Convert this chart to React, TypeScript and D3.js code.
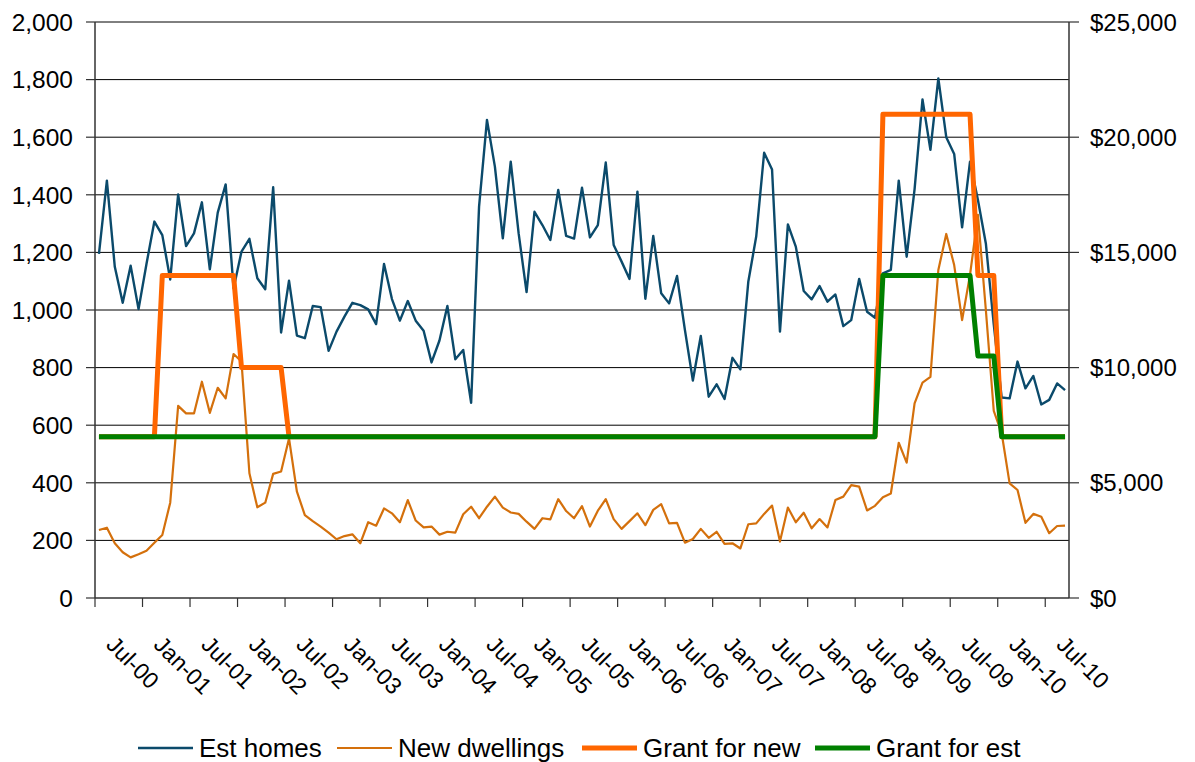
import { useRef, useEffect } from "react";
import * as d3 from "d3";

// monthly, Jul-00 .. Sep-10 (123 months)
const estHomes: number[] = [
    1195, 1449, 1150, 1025, 1154, 1003, 1160, 1307, 1260, 1106, 1401, 1222,
    1266, 1374, 1141, 1338, 1436, 1075, 1203, 1247, 1110, 1072, 1426, 922,
    1102, 911, 902, 1014, 1010, 858, 925, 977, 1025, 1017, 1002, 951,
    1160, 1038, 963, 1031, 963, 928, 818, 894, 1014, 829, 861, 678,
    1359, 1660, 1498, 1249, 1515, 1266, 1062, 1341, 1295, 1243, 1417, 1257,
    1248, 1425, 1252, 1295, 1512, 1226, 1168, 1108, 1411, 1039, 1257, 1058,
    1023, 1118, 930, 755, 910, 699, 742, 691, 834, 794, 1098, 1255,
    1546, 1488, 925, 1297, 1220, 1066, 1037, 1083, 1029, 1054, 944, 965,
    1108, 994, 973, 1127, 1139, 1449, 1185, 1420, 1731, 1556, 1804, 1600,
    1542, 1287, 1515, 1382, 1231, 950, 696, 693, 821, 728, 771, 672,
    688, 745, 722,
];

const newDwellings: number[] = [
    236, 244, 190, 159, 141, 152, 164, 192, 219, 331, 667, 641,
    641, 751, 643, 730, 693, 847, 821, 433, 315, 331, 431, 439,
    554, 369, 288, 267, 248, 227, 204, 215, 221, 190, 263, 251,
    311, 294, 263, 340, 269, 245, 248, 220, 230, 227, 291, 317,
    277, 317, 352, 314, 297, 292, 265, 240, 277, 273, 343, 302,
    277, 319, 248, 303, 343, 274, 240, 267, 294, 253, 306, 326,
    259, 261, 192, 205, 240, 209, 230, 188, 190, 172, 256, 259,
    292, 321, 196, 314, 263, 296, 242, 274, 245, 340, 352, 392,
    387, 304, 320, 350, 363, 539, 470, 676, 748, 768, 1139, 1264,
    1156, 965, 1122, 1330, 1000, 650, 572, 398, 375, 261, 292, 282,
    225, 250, 251,
];

const grantNew: number[] = [
    7000, 7000, 7000, 7000, 7000, 7000, 7000, 7000, 14000, 14000, 14000, 14000,
    14000, 14000, 14000, 14000, 14000, 14000, 10000, 10000, 10000, 10000, 10000, 10000,
    7000, 7000, 7000, 7000, 7000, 7000, 7000, 7000, 7000, 7000, 7000, 7000,
    7000, 7000, 7000, 7000, 7000, 7000, 7000, 7000, 7000, 7000, 7000, 7000,
    7000, 7000, 7000, 7000, 7000, 7000, 7000, 7000, 7000, 7000, 7000, 7000,
    7000, 7000, 7000, 7000, 7000, 7000, 7000, 7000, 7000, 7000, 7000, 7000,
    7000, 7000, 7000, 7000, 7000, 7000, 7000, 7000, 7000, 7000, 7000, 7000,
    7000, 7000, 7000, 7000, 7000, 7000, 7000, 7000, 7000, 7000, 7000, 7000,
    7000, 7000, 7000, 21000, 21000, 21000, 21000, 21000, 21000, 21000, 21000, 21000,
    21000, 21000, 21000, 14000, 14000, 14000, 7000, 7000, 7000, 7000, 7000, 7000,
    7000, 7000, 7000,
];

const grantEst: number[] = [
    7000, 7000, 7000, 7000, 7000, 7000, 7000, 7000, 7000, 7000, 7000, 7000,
    7000, 7000, 7000, 7000, 7000, 7000, 7000, 7000, 7000, 7000, 7000, 7000,
    7000, 7000, 7000, 7000, 7000, 7000, 7000, 7000, 7000, 7000, 7000, 7000,
    7000, 7000, 7000, 7000, 7000, 7000, 7000, 7000, 7000, 7000, 7000, 7000,
    7000, 7000, 7000, 7000, 7000, 7000, 7000, 7000, 7000, 7000, 7000, 7000,
    7000, 7000, 7000, 7000, 7000, 7000, 7000, 7000, 7000, 7000, 7000, 7000,
    7000, 7000, 7000, 7000, 7000, 7000, 7000, 7000, 7000, 7000, 7000, 7000,
    7000, 7000, 7000, 7000, 7000, 7000, 7000, 7000, 7000, 7000, 7000, 7000,
    7000, 7000, 7000, 14000, 14000, 14000, 14000, 14000, 14000, 14000, 14000, 14000,
    14000, 14000, 14000, 10500, 10500, 10500, 7000, 7000, 7000, 7000, 7000, 7000,
    7000, 7000, 7000,
];

const tickLabels = [
    "Jul-00", "Jan-01", "Jul-01", "Jan-02", "Jul-02", "Jan-03", "Jul-03",
    "Jan-04", "Jul-04", "Jan-05", "Jul-05", "Jan-06", "Jul-06", "Jan-07",
    "Jul-07", "Jan-08", "Jul-08", "Jan-09", "Jul-09", "Jan-10", "Jul-10",
];

const leftTicks = [0, 200, 400, 600, 800, 1000, 1200, 1400, 1600, 1800, 2000];
const rightTicks = [0, 5000, 10000, 15000, 20000, 25000];

const seriesNames = ["Est homes", "New dwellings", "Grant for new", "Grant for est"];
const seriesColors = ["#0b4a6b", "#d4700c", "#ff6600", "#008000"];
const seriesWidths = [2.4, 2.2, 5, 5];

const FONT = "'Liberation Sans', Arial, sans-serif";

const GrantChart = () => {
    const svgRef = useRef<SVGSVGElement>(null);

    useEffect(() => {
        if (!svgRef.current) return;
        const svg = d3.select(svgRef.current);
        svg.selectAll("*").remove();

        const width = 1195;
        const height = 762;
        const plot = { left: 95, right: 1069, top: 22, bottom: 598 };

        const months = d3.timeMonth.range(new Date(2000, 6, 1), new Date(2010, 9, 1));
        const fmt = d3.timeFormat("%b-%y");
        const cats = months.map((m) => fmt(m));

        const x = d3.scaleBand<string>().domain(cats).range([plot.left, plot.right]).padding(0);
        const cx = (i: number) => (x(cats[i]) || 0) + x.bandwidth() / 2;
        const y = d3.scaleLinear().domain([0, 2000]).range([plot.bottom, plot.top]);
        const y2 = d3.scaleLinear().domain([0, 25000]).range([plot.bottom, plot.top]);

        svg.attr("width", width).attr("height", height).attr("viewBox", [0, 0, width, height]);

        // gridlines
        svg.append("g")
            .selectAll("line")
            .data(leftTicks.slice(1))
            .enter()
            .append("line")
            .attr("x1", plot.left)
            .attr("x2", plot.right)
            .attr("y1", (d) => y(d))
            .attr("y2", (d) => y(d))
            .attr("stroke", "#000")
            .attr("stroke-width", 1);

        const lineLeft = d3.line<number>().x((_, i) => cx(i)).y((d) => y(d));
        const lineRight = d3.line<number>().x((_, i) => cx(i)).y((d) => y2(d));

        const series: [number[], d3.Line<number>][] = [
            [estHomes, lineLeft],
            [newDwellings, lineLeft],
            [grantNew, lineRight],
            [grantEst, lineRight],
        ];
        series.forEach(([vals, gen], k) => {
            svg.append("path")
                .datum(vals)
                .attr("d", gen)
                .attr("fill", "none")
                .attr("stroke", seriesColors[k])
                .attr("stroke-width", seriesWidths[k])
                .attr("stroke-linejoin", "round");
        });

        // axes
        const axisColor = "#333";
        const leftAxis = svg.append("g");
        leftAxis.append("line")
            .attr("x1", plot.left).attr("x2", plot.left)
            .attr("y1", plot.top).attr("y2", plot.bottom)
            .attr("stroke", axisColor).attr("stroke-width", 1.5);
        leftAxis.selectAll("line.tick")
            .data(leftTicks)
            .enter()
            .append("line")
            .attr("class", "tick")
            .attr("x1", plot.left - 9).attr("x2", plot.left)
            .attr("y1", (d) => y(d)).attr("y2", (d) => y(d))
            .attr("stroke", axisColor).attr("stroke-width", 1.2);
        leftAxis.selectAll("text")
            .data(leftTicks)
            .enter()
            .append("text")
            .attr("x", 73)
            .attr("y", (d) => y(d))
            .attr("dy", "0.36em")
            .attr("text-anchor", "end")
            .attr("font-family", FONT)
            .attr("font-size", 24.5)
            .text((d) => d3.format(",")(d));

        const rightAxis = svg.append("g");
        rightAxis.append("line")
            .attr("x1", plot.right).attr("x2", plot.right)
            .attr("y1", plot.top).attr("y2", plot.bottom)
            .attr("stroke", axisColor).attr("stroke-width", 1.5);
        rightAxis.selectAll("line.tick")
            .data(rightTicks)
            .enter()
            .append("line")
            .attr("class", "tick")
            .attr("x1", plot.right).attr("x2", plot.right + 10)
            .attr("y1", (d) => y2(d)).attr("y2", (d) => y2(d))
            .attr("stroke", axisColor).attr("stroke-width", 1.2);
        rightAxis.selectAll("text")
            .data(rightTicks)
            .enter()
            .append("text")
            .attr("x", 1090)
            .attr("y", (d) => y2(d))
            .attr("dy", "0.36em")
            .attr("font-family", FONT)
            .attr("font-size", 24)
            .text((d) => "$" + d3.format(",")(d));

        const bottomAxis = svg.append("g");
        bottomAxis.append("line")
            .attr("x1", plot.left).attr("x2", plot.right)
            .attr("y1", plot.bottom).attr("y2", plot.bottom)
            .attr("stroke", axisColor).attr("stroke-width", 1.5);
        const tickIdx = tickLabels.map((t) => cats.indexOf(t));
        bottomAxis.selectAll("line.tick")
            .data(tickIdx)
            .enter()
            .append("line")
            .attr("class", "tick")
            .attr("x1", (i) => x(cats[i]) || 0).attr("x2", (i) => x(cats[i]) || 0)
            .attr("y1", plot.bottom).attr("y2", plot.bottom + 9)
            .attr("stroke", axisColor).attr("stroke-width", 1.2);
        bottomAxis.selectAll("text")
            .data(tickIdx)
            .enter()
            .append("text")
            .attr("transform", (i) => `translate(${cx(i) + 6}, 646) rotate(45)`)
            .attr("font-family", FONT)
            .attr("font-size", 23)
            .text((i) => cats[i]);

        // legend
        const legendX = [138, 337, 582, 815];
        const legend = svg.append("g")
            .selectAll("g")
            .data(seriesNames)
            .enter()
            .append("g")
            .attr("transform", (_, k) => `translate(${legendX[k]}, 748)`);
        legend.append("line")
            .attr("x1", 0).attr("x2", 55)
            .attr("stroke", (_, k) => seriesColors[k])
            .attr("stroke-width", (_, k) => seriesWidths[k]);
        legend.append("text")
            .attr("x", 61)
            .attr("dy", "0.35em")
            .attr("font-family", FONT)
            .attr("font-size", 26)
            .text((d) => d);
    }, []);

    return <svg ref={svgRef} style={{ display: "block" }} />;
};

export default function App() {
    return (
        <div style={{ position: "absolute", left: 0, top: 0, background: "#fff" }}>
            <GrantChart />
        </div>
    );
}
